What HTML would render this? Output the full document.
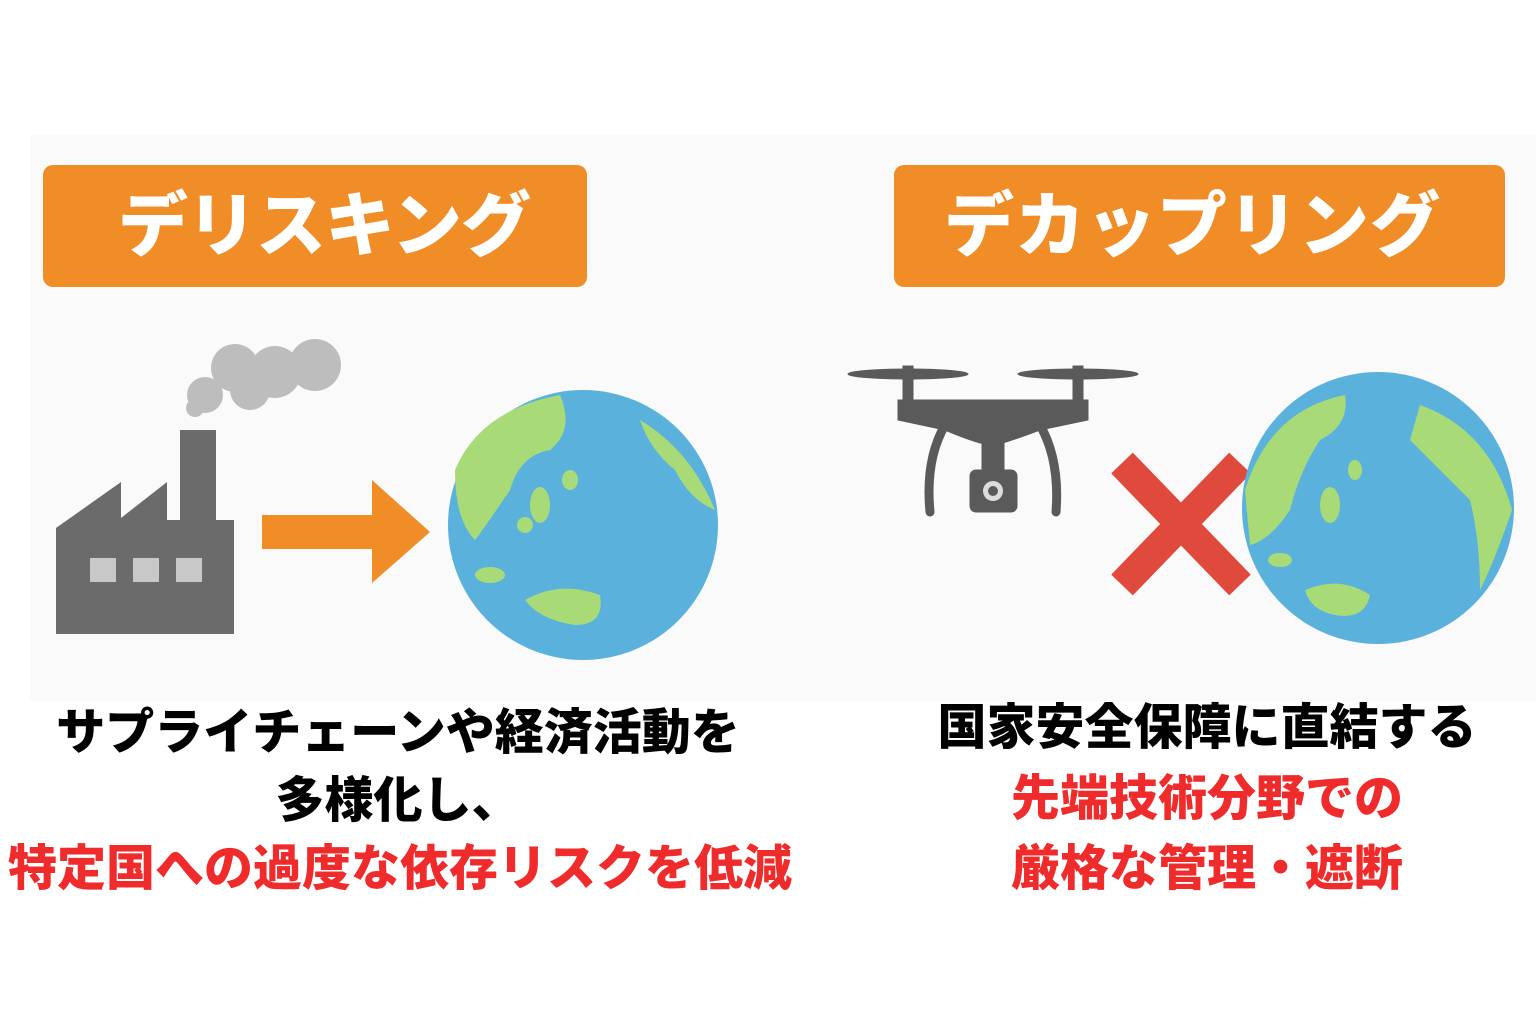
<!DOCTYPE html>
<html><head><meta charset="utf-8"><style>
body{margin:0;width:1536px;height:1024px;background:#fff;position:relative;overflow:hidden;font-family:"Liberation Sans","Noto Sans CJK JP",sans-serif}
.panel{position:absolute;left:30px;top:135px;width:1506px;height:566px;background:#fafafa}
.ban{position:absolute;top:165px;height:122px;background:#F18D26;border-radius:10px;color:#fff;font-weight:900;font-size:70px;line-height:122px;text-align:center;letter-spacing:-1px;box-sizing:border-box}
.t{position:absolute;font-weight:900;font-size:49px;text-align:center;white-space:nowrap;line-height:66px}
.r{color:#F02B2B}
</style></head><body>
<div class="panel"></div>
<div class="ban" style="left:43px;width:544px;padding-left:18px">デリスキング</div>
<div class="ban" style="left:894px;width:611px;padding-right:14px;letter-spacing:1px">デカップリング</div>
<svg width="1536" height="1024" style="position:absolute;left:0;top:0">
 <g fill="#6b6b6b">
  <rect x="180" y="430" width="36" height="100"/>
  <polygon points="56,528 121,482 121,518 167,482 167,520 234,520 234,634 56,634"/>
 </g>
 <g fill="#c8c8c8"><rect x="90" y="558" width="26" height="24"/><rect x="133" y="558" width="26" height="24"/><rect x="176" y="558" width="26" height="24"/></g>
 <g fill="#bdbdbd"><circle cx="205" cy="395" r="18"/><circle cx="235" cy="368" r="24"/><circle cx="275" cy="372" r="26"/><circle cx="315" cy="365" r="26"/><circle cx="250" cy="390" r="20"/><circle cx="195" cy="408" r="9"/></g>
 <polygon points="262,515 372,515 372,480 430,532 372,583 372,549 262,549" fill="#F18D26"/>
 <circle cx="583" cy="525" r="135" fill="#5AB2DC"/>
 <g fill="#A8DB78">
  <path d="M455,470 Q480,410 560,395 Q575,430 550,450 Q520,455 510,490 Q490,520 475,540 Q455,520 455,470Z"/>
  <path d="M640,420 Q690,450 715,510 Q690,500 675,470 Q650,450 640,420Z"/>
  <ellipse cx="540" cy="505" rx="10" ry="18"/><ellipse cx="570" cy="480" rx="8" ry="10"/><ellipse cx="525" cy="525" rx="8" ry="8"/>
  <path d="M525,600 Q560,580 600,595 Q605,625 575,625 Q540,620 525,600Z"/>
  <ellipse cx="490" cy="575" rx="15" ry="8"/>
 </g>
 <g fill="#5a5a5a" stroke="#5a5a5a">
  <ellipse cx="908" cy="374" rx="60" ry="5"/><ellipse cx="1078" cy="374" rx="60" ry="5"/>
  <rect x="903" y="366" width="10" height="40"/><rect x="1073" y="366" width="10" height="40"/>
  <path d="M898,400 L1088,400 L1088,420 L1040,430 Q1000,445 993,445 Q980,445 945,430 L898,420Z"/>
  <path d="M945,425 Q925,460 930,512" fill="none" stroke-width="9" stroke-linecap="round"/>
  <path d="M1040,425 Q1060,460 1056,512" fill="none" stroke-width="9" stroke-linecap="round"/>
  <rect x="970" y="470" width="47" height="42" rx="6"/>
  <rect x="982" y="440" width="22" height="32"/>
 </g>
 <circle cx="993" cy="491" r="10" fill="#ddd"/><circle cx="993" cy="491" r="5" fill="#5a5a5a"/>
 <g stroke="#E04A3C" stroke-width="30"><line x1="1122" y1="463" x2="1240" y2="585"/><line x1="1240" y1="463" x2="1122" y2="585"/></g>
 <circle cx="1378" cy="508" r="136" fill="#5AB2DC"/>
 <g fill="#A8DB78">
  <path d="M1245,490 Q1270,410 1345,395 Q1350,425 1320,440 Q1300,470 1290,510 Q1270,540 1250,545Z"/>
  <path d="M1420,405 Q1490,430 1512,510 Q1495,560 1480,590 Q1480,540 1470,500 Q1440,470 1410,440Z"/>
  <ellipse cx="1330" cy="505" rx="10" ry="18"/><ellipse cx="1355" cy="470" rx="7" ry="10"/>
  <path d="M1305,590 Q1340,575 1370,595 Q1365,620 1335,615 Q1310,610 1305,590Z"/>
  <ellipse cx="1280" cy="560" rx="12" ry="7"/>
 </g>
</svg>
<div class="t" style="left:0;width:796px;top:700px">サプライチェーンや経済活動を</div>
<div class="t" style="left:0;width:796px;top:768px">多様化し、</div>
<div class="t r" style="left:0;width:800px;top:836px">特定国への過度な依存リスクを低減</div>
<div class="t" style="left:900px;width:614px;top:695px">国家安全保障に直結する</div>
<div class="t r" style="left:900px;width:614px;top:766px">先端技術分野での</div>
<div class="t r" style="left:900px;width:614px;top:836px">厳格な管理・遮断</div>
</body></html>
